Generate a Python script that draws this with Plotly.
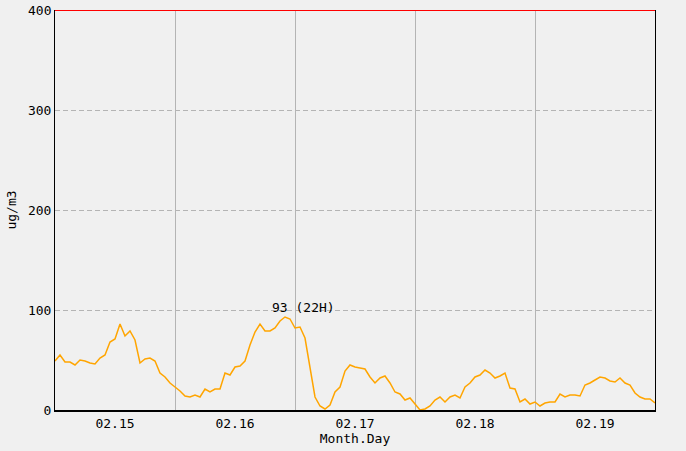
import plotly.graph_objects as go

day_labels = ["02.15", "02.16", "02.17", "02.18", "02.19"]
y_ticks = [0, 100, 200, 300, 400]

day1 = [49, 55, 48, 48, 45, 50, 49, 47, 46, 52, 55, 68, 71, 86, 74, 79, 70, 47, 51, 52, 49, 37, 33, 27]
day2 = [23, 19, 14, 13, 15, 13, 21, 18, 21, 21, 37, 35, 43, 44, 49, 65, 78, 86, 79, 79, 82, 89, 93, 91]
day3 = [82, 83, 72, 43, 13, 4, 1, 5, 18, 23, 39, 45, 43, 42, 41, 33, 27, 32, 34, 27, 18, 16, 10, 12]
day4 = [6, 0, 1, 4, 10, 13, 8, 13, 15, 12, 23, 27, 33, 35, 40, 37, 32, 34, 37, 22, 21, 8, 11, 6]
day5 = [8, 4, 7, 8, 8, 16, 13, 15, 15, 14, 25, 27, 30, 33, 32, 29, 28, 32, 27, 25, 17, 13, 11, 11]
tail = [7]

values = day1 + day2 + day3 + day4 + day5 + tail
hours = list(range(len(values)))

n_days = len(day_labels)
centers = [24 * d + 12 for d in range(n_days)]
boundaries = [24 * d for d in range(1, n_days)]

peak_idx = max(range(len(values)), key=lambda i: values[i])
peak_val = values[peak_idx]
peak_hour = peak_idx % 24

FONT = "DejaVu Sans Mono"
GRID = "#b4b4b4"
W, H = 686, 451
M = dict(l=55, r=31, t=10, b=41)
plot_h = H - M["t"] - M["b"]

fig = go.Figure()
fig.add_trace(go.Scatter(
    x=hours, y=values, mode="lines",
    line=dict(color="#ffa500", width=1.5),
    hoverinfo="skip", showlegend=False,
))

fig.add_annotation(
    x=peak_idx, y=peak_val, text=f"{peak_val} ({peak_hour}H)",
    showarrow=False, xanchor="left", yanchor="bottom",
    xshift=-15, yshift=0,
    font=dict(family=FONT, size=13, color="#000000"),
)

# red top border (offset half a pixel so it renders crisply)
top = 1 - 0.5 / plot_h
fig.add_shape(type="line", xref="paper", x0=0, x1=1, yref="paper", y0=top, y1=top,
              line=dict(color="#ff0000", width=1), layer="above")

fig.update_layout(
    width=W, height=H,
    margin=dict(**M, autoexpand=False),
    paper_bgcolor="#f0f0f0", plot_bgcolor="#f0f0f0",
    font=dict(family=FONT, size=13, color="#000000"),
    xaxis=dict(
        range=[0, 120], tickvals=centers, ticktext=day_labels,
        showgrid=False, zeroline=False, ticks="", automargin=False,
        showline=True, linecolor="#000000", linewidth=2,
        minor=dict(tickvals=boundaries, showgrid=True, gridcolor=GRID, gridwidth=1, ticks=""),
        title=dict(text="Month.Day", standoff=2, font=dict(family=FONT, size=13)),
        tickfont=dict(family=FONT, size=13),
    ),
    yaxis=dict(
        range=[0, 400], tickvals=y_ticks[:-1],
        ticktext=[str(v) for v in y_ticks[:-1]],
        showgrid=True, gridcolor=GRID, griddash="5px,3px", gridwidth=1,
        zeroline=False, ticks="", automargin=False,
        showline=True, linecolor="#000000", linewidth=1, mirror=True,
        title=dict(text="ug/m3", standoff=8, font=dict(family=FONT, size=13)),
        tickfont=dict(family=FONT, size=13),
    ),
)
# top tick label without a gridline underneath the red border
fig.add_annotation(xref="paper", x=0, yref="y", y=y_ticks[-1], text=str(y_ticks[-1]),
                   showarrow=False, xanchor="right", xshift=-2,
                   font=dict(family=FONT, size=13, color="#000000"))

fig.write_html(
    "out.html",
    config={"displayModeBar": False},
    post_script="document.body.style.margin='0';document.body.style.overflow='hidden';",
)
